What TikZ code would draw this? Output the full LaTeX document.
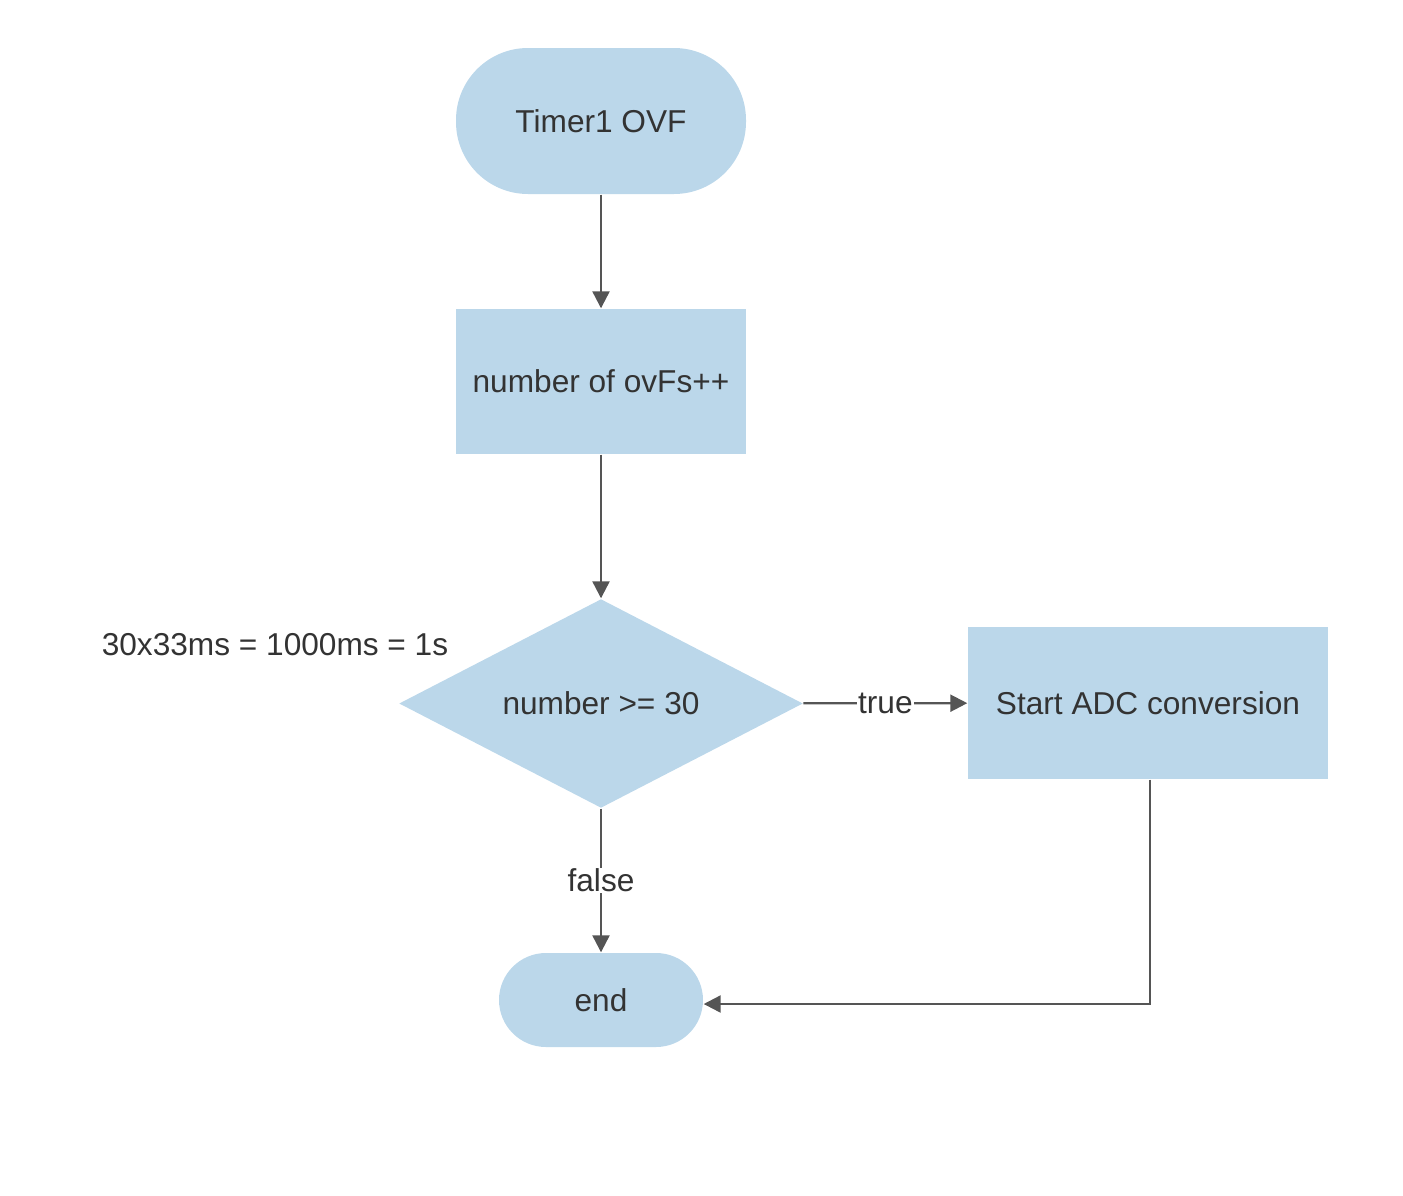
\documentclass[tikz,border=0pt]{standalone}
\usepackage{fontspec}
\setmainfont{Liberation Sans}
\usepackage{xcolor}
\usepackage{tikz}
\usetikzlibrary{shapes.geometric,arrows.meta}

\definecolor{caja}{HTML}{BBD7EA}
\definecolor{linea}{HTML}{555555}
\definecolor{texto}{HTML}{333333}

\tikzset{
  base/.style={fill=caja, draw=none, text=texto, font=\fontsize{9}{11}\selectfont, inner sep=0pt},
  inicio/.style={base, rectangle, rounded corners=0.72cm, minimum width=2.9cm, minimum height=1.46cm},
  fin/.style={base, rectangle, rounded corners=0.47cm, minimum width=2.04cm, minimum height=0.94cm},
  proceso/.style={base, rectangle},
  decision/.style={base, diamond, aspect=1.93, minimum width=4.04cm, minimum height=2.09cm},
  flecha/.style={draw=linea, line width=0.65pt, -{Triangle[length=1.7mm,width=1.7mm]}},
  etiqueta/.style={fill=white, text=texto, font=\fontsize{9}{11}\selectfont, inner sep=0.3pt}
}

\begin{document}
\begin{tikzpicture}
        \useasboundingbox (0,0) rectangle (14.03,-11.95);

        % Nodos
        \node[inicio] (timer) at (6.01,-1.21) {Timer1 OVF};
        \node[proceso, minimum width=2.9cm, minimum height=1.45cm] (cuenta) at (6.01,-3.815) {number of ovFs++};
        \node[decision] (cond) at (6.01,-7.035) {number >= 30};
        \node[proceso, minimum width=3.6cm, minimum height=1.52cm] (adc) at (11.48,-7.03) {Start ADC conversion};
        \node[fin] (final) at (6.01,-10.0) {end};

        % Nota
        \node[text=texto, font=\fontsize{9}{11}\selectfont] (nota) at (2.75,-6.45) {30x33ms = 1000ms = 1s};

        % Flechas
        \draw[flecha] (timer) -- (cuenta);
        \draw[flecha] (cuenta) -- (cond);
        \draw[flecha] (cond) -- (adc) node[etiqueta, midway] {true};
        \draw[flecha] (cond) -- (final) node[etiqueta, midway] {false};
        \draw[flecha] ([xshift=0.02cm]adc.south) |- ([yshift=-0.04cm]final.east);

\end{tikzpicture}
\end{document}
